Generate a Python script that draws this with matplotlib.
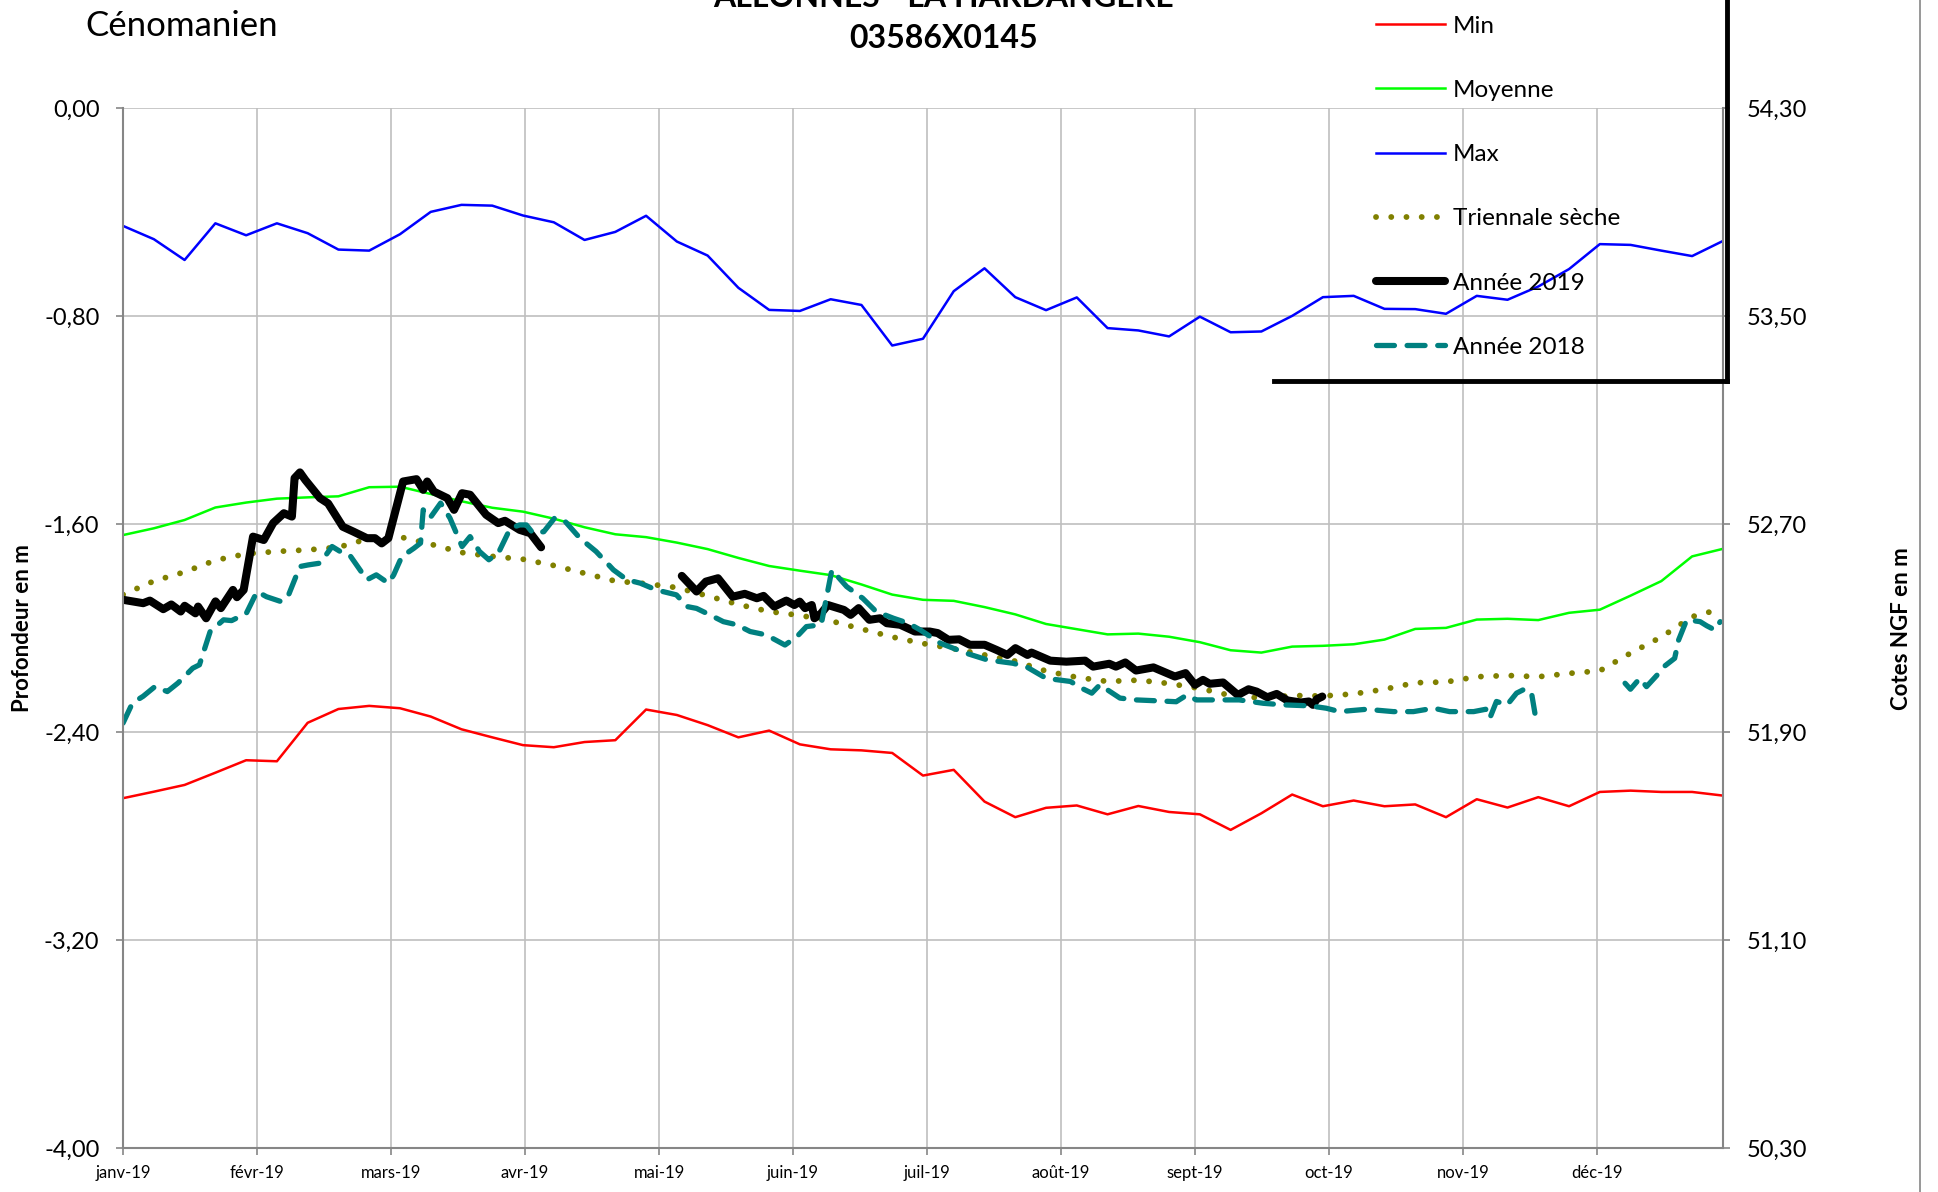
import numpy as np
import matplotlib.pyplot as plt
from matplotlib.lines import Line2D
from matplotlib.ticker import FuncFormatter

plt.rcParams['font.family'] = ['Lato', 'DejaVu Sans']

# x axis: one slot per month, labels as in the sheet
MONTHS = ['janv-19', 'févr-19', 'mars-19', 'avr-19', 'mai-19', 'juin-19',
          'juil-19', 'août-19', 'sept-19', 'oct-19', 'nov-19', 'déc-19']
X_END = 11.94          # last weekly point (in month units)

# weekly reference statistics (depth in m)
VAL_MIN = [-2.655, -2.630, -2.604, -2.557, -2.509, -2.513, -2.365, -2.312, -2.300, -2.309,
           -2.341, -2.390, -2.421, -2.451, -2.459, -2.439, -2.432, -2.314, -2.335, -2.374,
           -2.421, -2.395, -2.448, -2.467, -2.471, -2.481, -2.568, -2.546, -2.668, -2.728,
           -2.692, -2.683, -2.717, -2.685, -2.708, -2.717, -2.777, -2.713, -2.641, -2.686,
           -2.664, -2.686, -2.679, -2.728, -2.659, -2.691, -2.651, -2.686, -2.631, -2.626,
           -2.631, -2.631, -2.645]
VAL_MOY = [-1.643, -1.617, -1.585, -1.537, -1.518, -1.503, -1.498, -1.494, -1.459, -1.457,
           -1.485, -1.513, -1.538, -1.553, -1.580, -1.613, -1.640, -1.651, -1.672, -1.697,
           -1.731, -1.762, -1.780, -1.797, -1.833, -1.872, -1.892, -1.896, -1.920, -1.948,
           -1.985, -2.005, -2.025, -2.022, -2.034, -2.055, -2.086, -2.095, -2.072, -2.069,
           -2.063, -2.045, -2.004, -2.000, -1.968, -1.965, -1.970, -1.942, -1.930, -1.876,
           -1.820, -1.725, -1.696]
VAL_MAX = [-0.454, -0.505, -0.585, -0.444, -0.490, -0.444, -0.482, -0.545, -0.549, -0.486,
           -0.400, -0.373, -0.376, -0.414, -0.440, -0.508, -0.477, -0.415, -0.514, -0.568,
           -0.692, -0.777, -0.781, -0.736, -0.758, -0.914, -0.888, -0.705, -0.617, -0.728,
           -0.778, -0.729, -0.847, -0.856, -0.879, -0.803, -0.863, -0.860, -0.800, -0.728,
           -0.723, -0.773, -0.774, -0.792, -0.723, -0.738, -0.687, -0.620, -0.524, -0.527,
           -0.549, -0.570, -0.512]
VAL_TRI = [-1.872, -1.820, -1.785, -1.740, -1.715, -1.706, -1.700, -1.690, -1.656, -1.650,
           -1.678, -1.710, -1.725, -1.736, -1.760, -1.790, -1.820, -1.830, -1.845, -1.877,
           -1.910, -1.937, -1.952, -1.973, -2.004, -2.035, -2.060, -2.080, -2.104, -2.128,
           -2.166, -2.190, -2.206, -2.201, -2.214, -2.233, -2.260, -2.270, -2.260, -2.262,
           -2.254, -2.236, -2.211, -2.208, -2.188, -2.183, -2.188, -2.175, -2.165, -2.097,
           -2.035, -1.957, -1.925]

# daily measurements, nan = no record
X_2019 = [0.00, 0.15, 0.20, 0.30, 0.36, 0.43, 0.46, 0.54, 0.56, 0.62, 0.69, 0.73, 0.82, 0.85,
          0.90, 0.97, 1.05, 1.12, 1.20, 1.26, 1.28, 1.32, 1.36, 1.47, 1.53, 1.64, 1.72, 1.82,
          1.88, 1.93, 1.98, 2.09, 2.19, 2.24, 2.27, 2.32, 2.42, 2.47, 2.53, 2.59, 2.71, 2.80,
          2.85, 2.96, 3.04, 3.12, 3.60,
          4.17, 4.28, 4.35, 4.44, 4.55, 4.64, 4.73, 4.78, 4.86, 4.95, 5.01, 5.05, 5.09, 5.14,
          5.16, 5.21, 5.26, 5.38, 5.43, 5.49, 5.57, 5.65, 5.70, 5.80, 5.91, 6.02, 6.08, 6.16,
          6.24, 6.32, 6.43, 6.52, 6.60, 6.66, 6.75, 6.78, 6.92, 7.04, 7.18, 7.24, 7.36, 7.41,
          7.48, 7.56, 7.69, 7.85, 7.93, 8.00, 8.06, 8.11, 8.21, 8.32, 8.40, 8.46, 8.54, 8.61,
          8.69, 8.79, 8.85, 8.88, 8.91, 8.95]
Y_2019 = [-1.892, -1.905, -1.895, -1.928, -1.910, -1.937, -1.915, -1.944, -1.918, -1.963,
          -1.898, -1.924, -1.854, -1.882, -1.854, -1.649, -1.662, -1.597, -1.559, -1.572,
          -1.424, -1.402, -1.431, -1.501, -1.521, -1.611, -1.630, -1.655, -1.655, -1.675,
          -1.655, -1.437, -1.428, -1.469, -1.437, -1.476, -1.501, -1.546, -1.482, -1.488,
          -1.565, -1.597, -1.588, -1.623, -1.636, -1.690, np.nan,
          -1.800, -1.860, -1.822, -1.809, -1.880, -1.869, -1.886, -1.877, -1.918, -1.895,
          -1.912, -1.899, -1.924, -1.912, -1.963, -1.944, -1.912, -1.931, -1.950, -1.924,
          -1.969, -1.963, -1.982, -1.988, -2.014, -2.014, -2.020, -2.046, -2.044, -2.065,
          -2.065, -2.085, -2.104, -2.078, -2.104, -2.095, -2.126, -2.130, -2.126, -2.149,
          -2.138, -2.149, -2.133, -2.164, -2.152, -2.187, -2.174, -2.219, -2.200, -2.215,
          -2.210, -2.258, -2.236, -2.245, -2.267, -2.254, -2.279, -2.287, -2.283, -2.296,
          -2.274, -2.264]

X_2018 = [0.00, 0.07, 0.15, 0.24, 0.33, 0.41, 0.52, 0.57, 0.65, 0.75, 0.81, 0.92, 1.00, 1.07,
          1.18, 1.23, 1.32, 1.38, 1.47, 1.56, 1.62, 1.69, 1.82, 1.89, 1.98, 2.02, 2.08, 2.17,
          2.22, 2.24, 2.29, 2.37, 2.44, 2.53, 2.59, 2.66, 2.73, 2.80, 2.89, 2.96, 3.01, 3.06,
          3.14, 3.22, 3.29, 3.41, 3.53, 3.66, 3.76, 3.86, 3.98, 4.13, 4.21, 4.28, 4.38, 4.48,
          4.58, 4.68, 4.80, 4.94, 5.03, 5.10, 5.21, 5.29, 5.40, 5.52, 5.62, 5.75, 5.86, 5.95,
          6.10, 6.29, 6.45, 6.64, 6.74, 6.89, 7.07, 7.17, 7.23, 7.29, 7.44, 7.56, 7.74, 7.86,
          7.94, 8.01, 8.19, 8.33, 8.51, 8.66, 8.86, 8.98, 9.08, 9.28, 9.48, 9.63, 9.78, 9.90,
          10.08, 10.17, 10.20, 10.25, 10.33, 10.40, 10.45, 10.51, 10.55, 10.90,
          11.21, 11.25, 11.32, 11.37, 11.45, 11.50, 11.58, 11.61, 11.67, 11.77, 11.82, 11.88,
          11.92]
Y_2018 = [-2.366, -2.289, -2.263, -2.225, -2.245, -2.212, -2.155, -2.142, -2.014, -1.969,
          -1.972, -1.944, -1.860, -1.880, -1.899, -1.880, -1.764, -1.758, -1.751, -1.687,
          -1.706, -1.719, -1.815, -1.796, -1.828, -1.796, -1.726, -1.694, -1.674, -1.546,
          -1.578, -1.520, -1.578, -1.687, -1.649, -1.706, -1.738, -1.713, -1.617, -1.604,
          -1.604, -1.636, -1.630, -1.578, -1.585, -1.655, -1.706, -1.777, -1.815, -1.828,
          -1.854, -1.873, -1.918, -1.925, -1.950, -1.976, -1.988, -2.014, -2.027, -2.066,
          -2.033, -1.995, -1.988, -1.777, -1.841, -1.886, -1.937, -1.963, -1.982, -2.008,
          -2.059, -2.097, -2.123, -2.136, -2.149, -2.194, -2.206, -2.236, -2.251, -2.219,
          -2.270, -2.277, -2.281, -2.284, -2.258, -2.277, -2.277, -2.277, -2.290, -2.296,
          -2.300, -2.309, -2.322, -2.313, -2.322, -2.322, -2.309, -2.322, -2.322, -2.313,
          -2.348, -2.283, -2.296, -2.251, -2.238, -2.245, -2.367, np.nan,
          -2.213, -2.236, -2.194, -2.226, -2.181, -2.149, -2.117, -2.046, -1.969, -1.976,
          -1.992, -2.008, -1.976]

DEPTH_TICKS = [0.0, -0.8, -1.6, -2.4, -3.2, -4.0]
NGF_OFFSET = 54.30     # cote NGF = profondeur + repere

GRID_GREY = '#BFBFBF'
AXIS_GREY = '#868686'


def comma(v, pos=None):
    """ French decimal format. """
    return f'{v:.2f}'.replace('.', ',')


def style_axis(ax):
    ax.set_xlim(0, X_END)
    ax.set_ylim(-4.0, 0.0)
    ax.set_xticks(range(len(MONTHS)))
    ax.set_xticklabels(MONTHS, fontsize=12)
    ax.set_yticks(DEPTH_TICKS)
    ax.yaxis.set_major_formatter(FuncFormatter(comma))
    ax.tick_params(axis='y', labelsize=17, length=5, width=1.2, color=AXIS_GREY, pad=12)
    ax.tick_params(axis='x', length=5, width=1.2, color=AXIS_GREY, pad=7)
    ax.grid(True, color=GRID_GREY, linewidth=1.2)
    ax.set_axisbelow(True)
    ax.spines['top'].set_visible(False)
    for side in ['left', 'bottom', 'right']:
        ax.spines[side].set_color(AXIS_GREY)
        ax.spines[side].set_linewidth(1.5)


def main():
    fig = plt.figure(figsize=(19.38, 11.92), dpi=100)
    ax = fig.add_axes([0.0635, 0.037, 0.8255, 0.8725])
    style_axis(ax)

    week_x = np.linspace(0, X_END, len(VAL_MAX))
    ax.plot(week_x, VAL_MIN, color='#FF0000', lw=1.8, label='Min')
    ax.plot(week_x, VAL_MOY, color='#00FF00', lw=1.8, label='Moyenne')
    ax.plot(week_x, VAL_MAX, color='#0000FF', lw=1.8, label='Max')
    ax.plot(week_x, VAL_TRI, color='#808000', lw=4.2, linestyle=(0, (0.01, 2.6)),
            dash_capstyle='round', label='Triennale sèche')
    ax.plot(X_2019, Y_2019, color='black', lw=5.8, solid_capstyle='round',
            solid_joinstyle='round', label='Année 2019')
    ax.plot(X_2018, Y_2018, color='#008080', lw=3.8, linestyle=(0, (3.4, 2.4)),
            dash_capstyle='round', label='Année 2018')

    # right axis: cotes NGF
    ax2 = ax.twinx()
    ax2.set_ylim(-4.0 + NGF_OFFSET, NGF_OFFSET)
    ax2.set_yticks([t + NGF_OFFSET for t in DEPTH_TICKS])
    ax2.yaxis.set_major_formatter(FuncFormatter(comma))
    ax2.tick_params(axis='y', labelsize=17, length=5, width=1.2, color=AXIS_GREY, pad=12)
    for side in ['left', 'bottom', 'top', 'right']:
        ax2.spines[side].set_visible(False)

    fig.text(0.0115, 0.473, 'Profondeur en m', rotation=90, ha='center', va='center',
             fontsize=16, fontweight='bold')
    fig.text(0.981, 0.473, 'Cotes NGF en m', rotation=90, ha='center', va='center',
             fontsize=16, fontweight='bold')
    fig.text(0.044, 0.978, 'Cénomanien', ha='left', va='center', fontsize=25)
    fig.text(0.487, 0.994, 'ALLONNES - LA HARDANGERE', ha='center', va='baseline',
             fontsize=23, fontweight='bold')
    fig.text(0.487, 0.968, '03586X0145', ha='center', va='center',
             fontsize=23, fontweight='bold')

    handles, labels = ax.get_legend_handles_labels()
    fig.legend(handles, labels, loc='upper left', bbox_to_anchor=(0.710, 0.987),
               frameon=False, fontsize=17.5, handlelength=2.85, handletextpad=0.3,
               labelspacing=1.78, borderpad=0, borderaxespad=0)

    # visible part of the legend frame + chart border
    fig.add_artist(Line2D([0.8912, 0.8912], [1.0, 0.680], color='black', lw=3.5))
    fig.add_artist(Line2D([0.6574, 0.8912], [0.680, 0.680], color='black', lw=3.5))
    fig.add_artist(Line2D([0.9905, 0.9905], [0.0, 1.0], color=AXIS_GREY, lw=1.2))

    fig.savefig('out.png', dpi=100)


if __name__ == '__main__':
    main()
